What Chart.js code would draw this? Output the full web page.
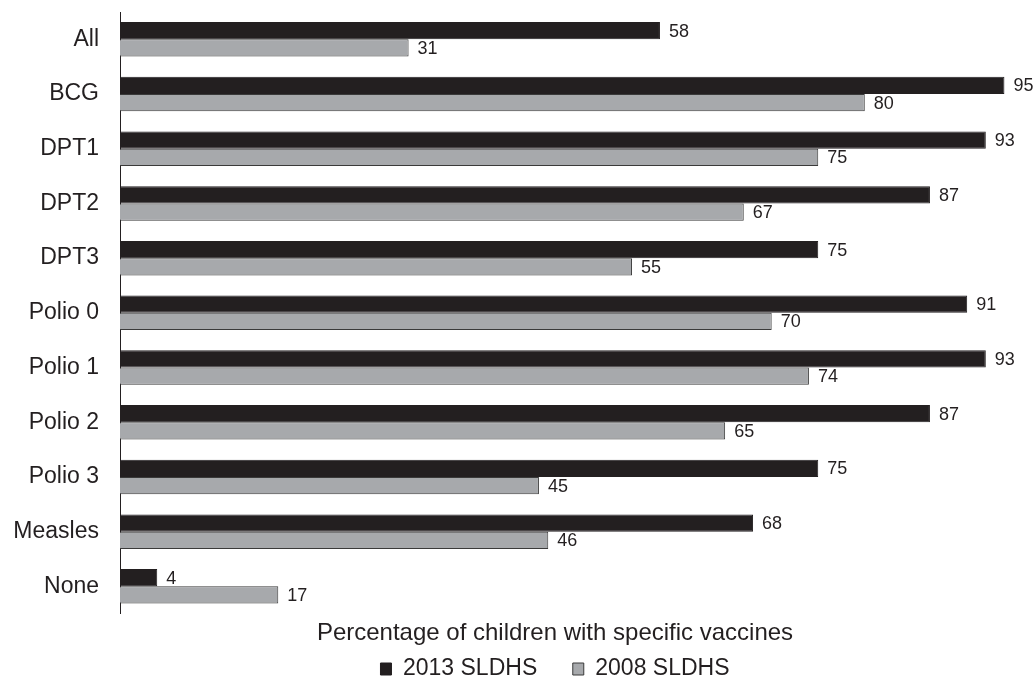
<!DOCTYPE html>
<html>
<head>
<meta charset="utf-8">
<script src="https://cdn.jsdelivr.net/npm/chart.js@4.4.1/dist/chart.umd.min.js"></script>
<style>
  html, body { margin: 0; padding: 0; background: #ffffff; }
  #wrap { width: 1035px; height: 678px; position: relative; }
</style>
</head>
<body>
<div id="wrap"><canvas id="c"></canvas></div>
<script>
const categories = ["All", "BCG", "DPT1", "DPT2", "DPT3", "Polio 0", "Polio 1", "Polio 2", "Polio 3", "Measles", "None"];
const values2013 = [58, 95, 93, 87, 75, 91, 93, 87, 75, 68, 4];
const values2008 = [31, 80, 75, 67, 55, 70, 74, 65, 45, 46, 17];
const seriesNames = ["2013 SLDHS", "2008 SLDHS"];
const axisTitle = "Percentage of children with specific vaccines";

const FONT = "'Liberation Sans', Arial, Helvetica, sans-serif";

const valueLabels = {
  id: 'valueLabels',
  afterDatasetsDraw(chart) {
    const ctx = chart.ctx;
    ctx.save();
    ctx.font = "18px " + FONT;
    ctx.fillStyle = '#231f20';
    ctx.textAlign = 'left';
    ctx.textBaseline = 'middle';
    chart.data.datasets.forEach((ds, i) => {
      const meta = chart.getDatasetMeta(i);
      meta.data.forEach((el, j) => {
        ctx.fillText(String(ds.data[j]), el.x + 9, el.y + 1);
      });
    });
    ctx.restore();
  }
};

new Chart(document.getElementById('c'), {
  type: 'bar',
  data: {
    labels: categories,
    datasets: [
      {
        label: seriesNames[0],
        data: values2013,
        backgroundColor: '#231f20',
        borderColor: '#231f20',
        borderWidth: 1,
        categoryPercentage: 0.63,
        barPercentage: 1.0,
        clip: false
      },
      {
        label: seriesNames[1],
        data: values2008,
        backgroundColor: '#a7a9ac',
        borderColor: '#3a3a3a',
        borderWidth: 1,
        categoryPercentage: 0.63,
        barPercentage: 1.0,
        clip: false
      }
    ]
  },
  options: {
    indexAxis: 'y',
    responsive: true,
    maintainAspectRatio: false,
    animation: false,
    devicePixelRatio: 1,
    layout: { padding: { left: 0, right: 45, top: 12, bottom: 0 } },
    scales: {
      x: {
        display: false,
        min: 0,
        max: 93.45
      },
      y: {
        grid: { display: false, drawTicks: false },
        border: { display: true, color: '#231f20', width: 1 },
        ticks: {
          padding: 21,
          color: '#231f20',
          font: { family: FONT, size: 23 }
        },
        afterFit(scale) {
          scale.width = 120;
          scale.paddingTop = 0;
          scale.paddingBottom = 0;
        }
      }
    },
    plugins: {
      tooltip: { enabled: false },
      title: {
        display: true,
        position: 'bottom',
        fullSize: false,
        weight: 500,
        text: axisTitle,
        color: '#231f20',
        font: { family: FONT, size: 24, weight: 'normal' },
        padding: { top: 5, bottom: 0 }
      },
      legend: {
        position: 'bottom',
        fullSize: false,
        weight: 1000,
        maxHeight: 30.5,
        labels: {
          boxWidth: 11,
          boxHeight: 12,
          padding: 10,
          color: '#231f20',
          font: { family: FONT, size: 23 },
          generateLabels(chart) {
            const items = Chart.defaults.plugins.legend.labels.generateLabels(chart);
            items.forEach((it, i) => {
              if (i < items.length - 1) it.text = it.text + '    ';
            });
            return items;
          }
        }
      }
    }
  },
  plugins: [valueLabels]
});
</script>
</body>
</html>
